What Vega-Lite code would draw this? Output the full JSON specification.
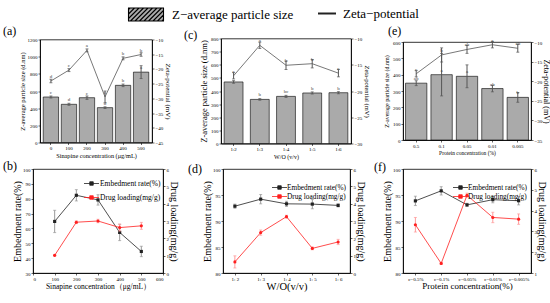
{
  "$schema": "https://vega.github.io/schema/vega-lite/v6.json",
  "padding": {"left": 2, "top": 3.5, "right": 0, "bottom": 0},
  "config": {
    "font": "Liberation Serif",
    "view": {"stroke": "black", "strokeWidth": 0.8},
    "axis": {"grid": false, "domainColor": "black", "domainWidth": 0.8, "tickColor": "black", "tickWidth": 0.6, "tickSize": 2, "labelFont": "Liberation Serif", "labelFontSize": 5, "labelColor": "black", "labelPadding": 1, "titleFont": "Liberation Serif", "titleFontWeight": "normal", "titleColor": "black", "titlePadding": 2},
    "axisQuantitative": {"format": "d"},
    "title": {"font": "Liberation Serif", "fontSize": 12, "fontWeight": "normal", "anchor": "start", "frame": "group", "color": "black"},
    "legend": {"labelFont": "Liberation Serif", "labelColor": "black"}
  },
  "spacing": -1.5,
  "resolve": {"scale": {"color": "independent", "fill": "independent", "stroke": "independent"}},
  "vconcat": [
    {
      "bounds": "flush",
      "center": true,
      "spacing": 0,
      "resolve": {"scale": {"color": "independent", "fill": "independent", "stroke": "independent"}},
      "hconcat": [
        {"width": 7, "height": 105, "view": {"stroke": null}, "data": {"values": [{"t": ""}]}, "mark": {"type": "text"}, "encoding": {"text": {"field": "t", "type": "nominal"}}},
        {
          "width": 112, "height": 103,
          "title": {"text": "(a)", "dx": -37, "offset": 0},
          "data": {"values": [
            {"c": "0", "s": 530, "se": 12, "sl": "c", "z": -24.1, "ze": 0.6, "zl": "d"},
            {"c": "100", "s": 445, "se": 12, "sl": "d", "z": -20.4, "ze": 0.5, "zl": "c"},
            {"c": "200", "s": 522, "se": 20, "sl": "c", "z": -13.7, "ze": 0.5, "zl": "a"},
            {"c": "300", "s": 406, "se": 10, "sl": "d", "z": -29.5, "ze": 2.0, "zl": "e"},
            {"c": "400", "s": 666, "se": 15, "sl": "b", "z": -16.4, "ze": 0.5, "zl": "b"},
            {"c": "500", "s": 820, "se": 75, "sl": "a", "z": -15.1, "ze": 0.6, "zl": "b"}
          ]},
          "encoding": {"x": {"field": "c", "type": "ordinal", "sort": null, "scale": {"paddingInner": 0.15, "paddingOuter": 0.18}, "axis": {"labelAngle": 0, "title": "Sinapine concentration (μg/mL)", "titleFontSize": 6.3}}},
          "layer": [
            {
              "encoding": {"y": {"field": "s", "type": "quantitative", "scale": {"domain": [0, 1200]}, "axis": {"values": [0, 200, 400, 600, 800, 1000, 1200], "title": "Z-average particle size (d.nm)", "titleFontSize": 6.5}}},
              "layer": [
                {"mark": {"type": "bar", "fill": "#aaaaaa", "stroke": "black", "strokeWidth": 0.6}},
                {"mark": {"type": "errorbar", "color": "#555555", "ticks": {"size": 3}}, "encoding": {"yError": {"field": "se"}}},
                {"mark": {"type": "text", "dy": -5, "fontSize": 5, "color": "#444444"}, "encoding": {"text": {"field": "sl", "type": "nominal"}}}
              ]
            },
            {
              "encoding": {"y": {"field": "z", "type": "quantitative", "scale": {"domain": [-45, -10]}, "axis": {"orient": "right", "values": [-45, -40, -35, -30, -25, -20, -15, -10], "title": "Zeta-potential (mV)", "titleFontSize": 7}}},
              "layer": [
                {"mark": {"type": "line", "color": "#555555", "strokeWidth": 0.8}},
                {"mark": {"type": "errorbar", "color": "#555555", "ticks": {"size": 3}}, "encoding": {"yError": {"field": "ze"}}},
                {"mark": {"type": "text", "dy": -5, "fontSize": 5, "color": "#444444"}, "encoding": {"text": {"field": "zl", "type": "nominal"}}}
              ]
            }
          ],
          "resolve": {"scale": {"y": "independent"}}
        },
        {
          "width": 69, "height": 105, "view": {"stroke": null},
          "data": {"values": [{"t": ""}]},
          "layer": [
            {"mark": {"type": "text"}, "encoding": {"text": {"field": "t", "type": "nominal"}, "fill": {"datum": "Z−average particle size", "type": "nominal", "scale": {"range": ["#aaaaaa"]}, "legend": {"orient": "none", "legendX": -17, "legendY": -35, "title": null, "symbolType": "M-1.75,-0.65H1.75V0.65H-1.75Z M-1.75,-0.5L-1.6,-0.65 M-1.75,-0.05L-1.15,-0.65 M-1.75,0.4L-0.7,-0.65 M-1.55,0.65L-0.25,-0.65 M-1.1,0.65L0.2,-0.65 M-0.65,0.65L0.65,-0.65 M-0.2,0.65L1.1,-0.65 M0.25,0.65L1.55,-0.65 M0.7,0.65L1.75,-0.4 M1.15,0.65L1.75,0.05 M1.6,0.65L1.75,0.5", "symbolSize": 400, "symbolStrokeWidth": 1.1, "labelFontSize": 13, "labelOffset": 15, "padding": 0, "encode": {"symbols": {"update": {"fill": {"value": "white"}, "stroke": {"value": "black"}}}}}}}},
            {"mark": {"type": "text"}, "encoding": {"text": {"field": "t", "type": "nominal"}, "stroke": {"datum": "Zeta−potential", "type": "nominal", "scale": {"range": ["#222222"]}, "legend": {"orient": "none", "legendX": 165, "legendY": -35, "title": null, "symbolType": "stroke", "symbolSize": 324, "symbolStrokeWidth": 2, "labelFontSize": 13, "labelOffset": 6, "padding": 0, "encode": {"symbols": {"update": {"stroke": {"value": "black"}, "strokeWidth": {"value": 2}}}}}}}}
          ]
        },
        {
          "width": 130, "height": 105,
          "title": {"text": "(c)", "dx": -37, "offset": -5.5},
          "data": {"values": [
            {"w": "1:2", "s": 469, "se": 10, "sl": "", "z": -17.1, "ze": 0.6, "zl": "c"},
            {"w": "1:3", "s": 336, "se": 6, "sl": "b", "z": -11.3, "ze": 0.6, "zl": "a"},
            {"w": "1:4", "s": 359, "se": 8, "sl": "bc", "z": -15.1, "ze": 0.8, "zl": "b"},
            {"w": "1:5", "s": 385, "se": 8, "sl": "b", "z": -14.8, "ze": 0.8, "zl": "b"},
            {"w": "1:6", "s": 387, "se": 8, "sl": "b", "z": -16.6, "ze": 0.7, "zl": "c"}
          ]},
          "encoding": {"x": {"field": "w", "type": "ordinal", "sort": null, "scale": {"paddingInner": 0.28, "paddingOuter": 0.12}, "axis": {"labelAngle": 0, "title": "W/O (v/v)", "titleFontSize": 6}}},
          "layer": [
            {
              "encoding": {"y": {"field": "s", "type": "quantitative", "scale": {"domain": [0, 800]}, "axis": {"values": [0, 100, 200, 300, 400, 500, 600, 700, 800], "title": "Z-average particle size (d.nm)", "titleFontSize": 8.5}}},
              "layer": [
                {"mark": {"type": "bar", "fill": "#aaaaaa", "stroke": "black", "strokeWidth": 0.6}},
                {"mark": {"type": "errorbar", "color": "#555555", "ticks": {"size": 3}}, "encoding": {"yError": {"field": "se"}}},
                {"mark": {"type": "text", "dy": -5, "fontSize": 5, "color": "#444444"}, "encoding": {"text": {"field": "sl", "type": "nominal"}}}
              ]
            },
            {
              "encoding": {"y": {"field": "z", "type": "quantitative", "scale": {"domain": [-30, -10]}, "axis": {"orient": "right", "values": [-30, -25, -20, -15, -10], "title": "Zeta-potential (mV)", "titleFontSize": 6.5}}},
              "layer": [
                {"mark": {"type": "line", "color": "#555555", "strokeWidth": 0.8}},
                {"mark": {"type": "errorbar", "color": "#555555", "ticks": {"size": 3}}, "encoding": {"yError": {"field": "ze"}}},
                {"mark": {"type": "text", "dy": -5, "fontSize": 5, "color": "#444444"}, "encoding": {"text": {"field": "zl", "type": "nominal"}}}
              ]
            }
          ],
          "resolve": {"scale": {"y": "independent"}}
        },
        {"width": 52, "height": 105, "view": {"stroke": null}, "data": {"values": [{"t": ""}]}, "mark": {"type": "text"}, "encoding": {"text": {"field": "t", "type": "nominal"}}},
        {
          "width": 128, "height": 98,
          "title": {"text": "(e)", "dx": -15, "offset": -0.5},
          "data": {"values": [
            {"p": "0.5", "s": 348, "se": 15, "sl": "ab", "z": -18.1, "ze": 0.8, "zl": "c"},
            {"p": "0.1", "s": 400, "se": 130, "sl": "a", "z": -13.3, "ze": 1.8, "zl": "b"},
            {"p": "0.05", "s": 390, "se": 70, "sl": "a", "z": -11.9, "ze": 1.0, "zl": "ab"},
            {"p": "0.01", "s": 315, "se": 20, "sl": "ab", "z": -10.7, "ze": 0.8, "zl": "a"},
            {"p": "0.005", "s": 261, "se": 30, "sl": "b", "z": -11.6, "ze": 1.0, "zl": "ab"}
          ]},
          "encoding": {"x": {"field": "p", "type": "ordinal", "sort": null, "scale": {"paddingInner": 0.16, "paddingOuter": 0.1}, "axis": {"labelAngle": 0, "title": "Protein concentration (%)", "titleFontSize": 5.5}}},
          "layer": [
            {
              "encoding": {"y": {"field": "s", "type": "quantitative", "scale": {"domain": [0, 600]}, "axis": {"values": [0, 100, 200, 300, 400, 500, 600], "title": "Z-average particle size (d.nm)", "titleFontSize": 6, "titlePadding": 3}}},
              "layer": [
                {"mark": {"type": "bar", "fill": "#aaaaaa", "stroke": "black", "strokeWidth": 0.6}},
                {"mark": {"type": "errorbar", "color": "#555555", "ticks": {"size": 3}}, "encoding": {"yError": {"field": "se"}}},
                {"mark": {"type": "text", "dy": -5, "fontSize": 5, "color": "#444444"}, "encoding": {"text": {"field": "sl", "type": "nominal"}}}
              ]
            },
            {
              "encoding": {"y": {"field": "z", "type": "quantitative", "scale": {"domain": [-35, -10]}, "axis": {"orient": "right", "values": [-35, -30, -25, -20, -15, -10], "title": "Zeta-potential (mV)", "titleFontSize": 8, "titlePadding": 0}}},
              "layer": [
                {"mark": {"type": "line", "color": "#555555", "strokeWidth": 0.8}},
                {"mark": {"type": "errorbar", "color": "#555555", "ticks": {"size": 3}}, "encoding": {"yError": {"field": "ze"}}},
                {"mark": {"type": "text", "dy": -5, "fontSize": 5, "color": "#444444"}, "encoding": {"text": {"field": "zl", "type": "nominal"}}}
              ]
            }
          ],
          "resolve": {"scale": {"y": "independent"}}
        }
      ]
    },
    {
      "bounds": "flush",
      "spacing": 0,
      "resolve": {"scale": {"color": "independent", "fill": "independent", "stroke": "independent"}},
      "hconcat": [
        {
          "width": 130, "height": 104,
          "title": {"text": "(b)", "dx": -30, "offset": -6},
          "data": {"values": [
            {"x": 100, "e": 64.7, "ee": 7.5, "d": 1.02, "de": 0.05},
            {"x": 200, "e": 82.3, "ee": 3.8, "d": 2.93, "de": 0.08},
            {"x": 300, "e": 79.2, "ee": 3.5, "d": 3.0, "de": 0.1},
            {"x": 400, "e": 57.3, "ee": 5.5, "d": 2.62, "de": 0.2},
            {"x": 500, "e": 44.5, "ee": 3.5, "d": 2.72, "de": 0.2}
          ]},
          "encoding": {"x": {"field": "x", "type": "quantitative", "scale": {"domain": [0, 600]}, "axis": {"values": [0, 100, 200, 300, 400, 500, 600], "title": "Sinapine concentration（μg/mL）", "titleFontSize": 7.5, "titlePadding": 1}}},
          "layer": [
            {
              "encoding": {"y": {"field": "e", "type": "quantitative", "scale": {"domain": [30, 100]}, "axis": {"values": [30, 40, 50, 60, 70, 80, 90, 100], "title": "Embedment rate(%)", "titleFontSize": 10, "titlePadding": 0}}},
              "layer": [
                {"mark": {"type": "errorbar", "color": "#999999", "ticks": {"size": 3}}, "encoding": {"yError": {"field": "ee"}}},
                {"mark": {"type": "line", "strokeWidth": 0.8}, "encoding": {"color": {"datum": "Embedment rate(%)", "type": "nominal", "scale": {"domain": ["Embedment rate(%)", "Drug loading(mg/g)"], "range": ["#222222", "#ff2020"]}, "legend": {"orient": "none", "legendX": 53, "legendY": 9, "title": null, "symbolType": "M-1.5,0H1.5M-0.35,-0.35H0.35V0.35H-0.35Z", "symbolSize": 100, "symbolStrokeWidth": 0.8, "labelFontSize": 7.5, "labelOffset": 3, "padding": 0, "rowPadding": 5}}}},
                {"mark": {"type": "point", "shape": "square", "filled": true, "size": 10, "opacity": 1}, "encoding": {"color": {"datum": "Embedment rate(%)", "type": "nominal"}}}
              ]
            },
            {
              "encoding": {"y": {"field": "d", "type": "quantitative", "scale": {"domain": [0, 6]}, "axis": {"orient": "right", "values": [0, 1, 2, 3, 4, 5, 6], "title": "Drug loading(mg/g)", "titleFontSize": 10, "titlePadding": 0}}},
              "layer": [
                {"mark": {"type": "errorbar", "color": "#ff9999", "ticks": {"size": 3}}, "encoding": {"yError": {"field": "de"}}},
                {"mark": {"type": "line", "strokeWidth": 0.8}, "encoding": {"color": {"datum": "Drug loading(mg/g)", "type": "nominal"}}},
                {"mark": {"type": "point", "shape": "circle", "filled": true, "size": 10, "opacity": 1}, "encoding": {"color": {"datum": "Drug loading(mg/g)", "type": "nominal"}}}
              ]
            }
          ],
          "resolve": {"scale": {"y": "independent"}}
        },
        {"width": 60, "height": 1, "view": {"stroke": null}, "data": {"values": [{"t": ""}]}, "mark": {"type": "text"}, "encoding": {"text": {"field": "t", "type": "nominal"}}},
        {
          "width": 127, "height": 104,
          "title": {"text": "(d)", "dx": -35, "offset": -9},
          "data": {"values": [
            {"w": "1: 2", "e": 92.85, "ee": 0.4, "d": 0.64, "de": 0.35},
            {"w": "1: 3", "e": 94.2, "ee": 0.9, "d": 2.33, "de": 0.15},
            {"w": "1: 4", "e": 93.3, "ee": 0.5, "d": 3.25, "de": 0.08},
            {"w": "1: 5", "e": 93.25, "ee": 0.9, "d": 1.42, "de": 0.08},
            {"w": "1: 6", "e": 93.0, "ee": 0.3, "d": 1.79, "de": 0.15}
          ]},
          "encoding": {"x": {"field": "w", "type": "ordinal", "sort": null, "scale": {"type": "point", "padding": 0.46}, "axis": {"labelAngle": 0, "title": "W/O(v/v)", "titleFontSize": 10.5, "titlePadding": 0}}},
          "layer": [
            {
              "encoding": {"y": {"field": "e", "type": "quantitative", "scale": {"domain": [80, 100]}, "axis": {"values": [80, 85, 90, 95, 100], "title": "Embedment rate(%)", "titleFontSize": 10, "titlePadding": 0}}},
              "layer": [
                {"mark": {"type": "errorbar", "color": "#999999", "ticks": {"size": 3}}, "encoding": {"yError": {"field": "ee"}}},
                {"mark": {"type": "line", "strokeWidth": 0.8}, "encoding": {"color": {"datum": "Embedment rate(%)", "type": "nominal", "scale": {"domain": ["Embedment rate(%)", "Drug loading(mg/g)"], "range": ["#222222", "#ff2020"]}, "legend": {"orient": "none", "legendX": 51, "legendY": 13, "title": null, "symbolType": "M-1.5,0H1.5M-0.35,-0.35H0.35V0.35H-0.35Z", "symbolSize": 100, "symbolStrokeWidth": 0.8, "labelFontSize": 7.3, "labelOffset": 2, "padding": 0, "rowPadding": 0}}}},
                {"mark": {"type": "point", "shape": "square", "filled": true, "size": 10, "opacity": 1}, "encoding": {"color": {"datum": "Embedment rate(%)", "type": "nominal"}}}
              ]
            },
            {
              "encoding": {"y": {"field": "d", "type": "quantitative", "scale": {"domain": [0, 6]}, "axis": {"orient": "right", "values": [0, 1, 2, 3, 4, 5, 6], "title": "Drug loading(mg/g)", "titleFontSize": 10, "titlePadding": 0}}},
              "layer": [
                {"mark": {"type": "errorbar", "color": "#ff9999", "ticks": {"size": 3}}, "encoding": {"yError": {"field": "de"}}},
                {"mark": {"type": "line", "strokeWidth": 0.8}, "encoding": {"color": {"datum": "Drug loading(mg/g)", "type": "nominal"}}},
                {"mark": {"type": "point", "shape": "circle", "filled": true, "size": 10, "opacity": 1}, "encoding": {"color": {"datum": "Drug loading(mg/g)", "type": "nominal"}}}
              ]
            }
          ],
          "resolve": {"scale": {"y": "independent"}}
        },
        {"width": 53, "height": 1, "view": {"stroke": null}, "data": {"values": [{"t": ""}]}, "mark": {"type": "text"}, "encoding": {"text": {"field": "t", "type": "nominal"}}},
        {
          "width": 128, "height": 104,
          "title": {"text": "(f)", "dx": -29, "offset": -6.5},
          "data": {"values": [
            {"p": "c=0.5%", "e": 93.87, "ee": 0.9, "d": 3.32, "de": 0.35},
            {"p": "c=0.1%", "e": 95.8, "ee": 0.8, "d": 1.46, "de": 0.05},
            {"p": "c=0.05%", "e": 93.1, "ee": 0.3, "d": 4.74, "de": 0.1},
            {"p": "c=0.01%", "e": 94.1, "ee": 0.6, "d": 3.67, "de": 0.25},
            {"p": "c=0.005%", "e": 93.9, "ee": 0.8, "d": 3.59, "de": 0.25}
          ]},
          "encoding": {"x": {"field": "p", "type": "ordinal", "sort": null, "scale": {"type": "point", "padding": 0.48}, "axis": {"labelAngle": 0, "title": "Protein concentration(%)", "titleFontSize": 9, "titlePadding": 0}}},
          "layer": [
            {
              "encoding": {"y": {"field": "e", "type": "quantitative", "scale": {"domain": [80, 100]}, "axis": {"values": [80, 85, 90, 95, 100], "title": "Embedment rate(%)", "titleFontSize": 10, "titlePadding": 0}}},
              "layer": [
                {"mark": {"type": "errorbar", "color": "#999999", "ticks": {"size": 3}}, "encoding": {"yError": {"field": "ee"}}},
                {"mark": {"type": "line", "strokeWidth": 0.8}, "encoding": {"color": {"datum": "Embedment rate(%)", "type": "nominal", "scale": {"domain": ["Embedment rate(%)", "Drug loading(mg/g)"], "range": ["#222222", "#ff2020"]}, "legend": {"orient": "none", "legendX": 52, "legendY": 13, "title": null, "symbolType": "M-1.5,0H1.5M-0.35,-0.35H0.35V0.35H-0.35Z", "symbolSize": 100, "symbolStrokeWidth": 0.8, "labelFontSize": 7.3, "labelOffset": 2, "padding": 0, "rowPadding": 0}}}},
                {"mark": {"type": "point", "shape": "square", "filled": true, "size": 10, "opacity": 1}, "encoding": {"color": {"datum": "Embedment rate(%)", "type": "nominal"}}}
              ]
            },
            {
              "encoding": {"y": {"field": "d", "type": "quantitative", "scale": {"domain": [1, 6]}, "axis": {"orient": "right", "values": [1, 2, 3, 4, 5, 6], "title": "Drug loading(mg/g)", "titleFontSize": 10, "titlePadding": 0}}},
              "layer": [
                {"mark": {"type": "errorbar", "color": "#ff9999", "ticks": {"size": 3}}, "encoding": {"yError": {"field": "de"}}},
                {"mark": {"type": "line", "strokeWidth": 0.8}, "encoding": {"color": {"datum": "Drug loading(mg/g)", "type": "nominal"}}},
                {"mark": {"type": "point", "shape": "circle", "filled": true, "size": 10, "opacity": 1}, "encoding": {"color": {"datum": "Drug loading(mg/g)", "type": "nominal"}}}
              ]
            }
          ],
          "resolve": {"scale": {"y": "independent"}}
        }
      ]
    }
  ]
}
